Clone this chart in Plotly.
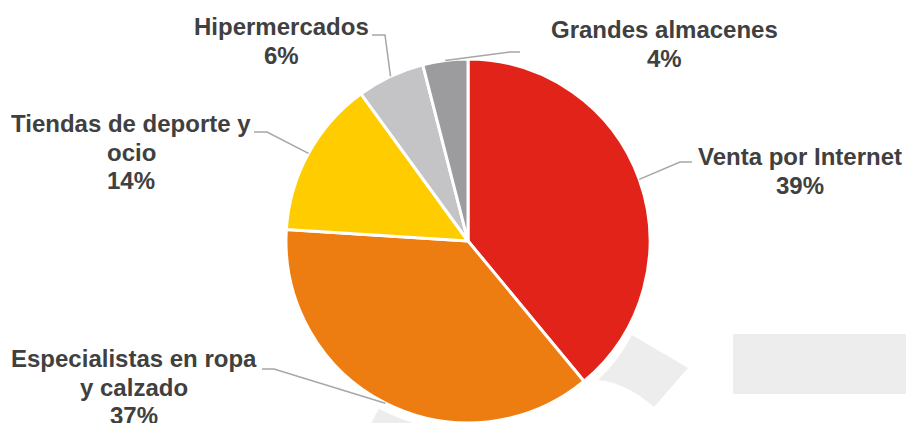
import math
import plotly.graph_objects as go

# ---------------- data ----------------
categories = ["Venta por Internet", "Especialistas en ropa y calzado",
              "Tiendas de deporte y ocio", "Hipermercados", "Grandes almacenes"]
values = [39, 37, 14, 6, 4]
label_lines = [["Venta por Internet"],
               ["Especialistas en ropa", "y calzado"],
               ["Tiendas de deporte y", "ocio"],
               ["Hipermercados"],
               ["Grandes almacenes"]]
colors = ["#E2231A", "#EE7D11", "#FFCC00", "#C4C3C5", "#9C9B9E"]

# ---------------- layout constants (pixels) ----------------
W, H = 906, 423
CX, CY, R = 468, 241, 182
FS = 24
LINE_GAP = 28.5
TEXT_COLOR = "#404040"
LEADER_COLOR = "#A6A6A6"
# label centre x, first baseline y, leader start (x,y), elbow x
label_pos = [(800, 165, 692, 162, 680),
             (134, 367, 262, 369, 274),
             (131, 132, 254, 132, 267),
             (281, 35, 372, 35, 385),
             (664, 38, 520, 52, 510)]


def X(x):
    return x / W


def Y(y):
    return 1 - y / H


fig = go.Figure(go.Pie(
    labels=categories, values=values, sort=False, direction="clockwise",
    rotation=0, textinfo="none", hoverinfo="label+percent",
    marker=dict(colors=colors, line=dict(color="white", width=3)),
    domain=dict(x=[X(CX - R), X(CX + R)], y=[Y(CY + R), Y(CY - R)]),
    showlegend=False,
))

shapes = []
# watermark pieces (background decoration)
def arc_pts(r, a0, a1, n=20):
    pts = []
    for i in range(n + 1):
        a = math.radians(a0 + (a1 - a0) * i / n)
        pts.append((CX + r * math.cos(a), CY + r * math.sin(a)))
    return pts

wm = "#EDEDED"
p1 = [(632, 335), (688, 368), (654, 407)]
path = "M {} {} ".format(X(p1[0][0]), Y(p1[0][1]))
path += "L {} {} L {} {} ".format(X(p1[1][0]), Y(p1[1][1]), X(p1[2][0]), Y(p1[2][1]))
path += "Q {} {} {} {} ".format(X(627), Y(383), X(598), Y(380))
path += "Q {} {} {} {} Z".format(X(618.5), Y(361), X(632), Y(335))
shapes.append(dict(type="path", path=path, xref="paper", yref="paper",
                   fillcolor=wm, line=dict(width=0), layer="below"))
inner = arc_pts(190, 118, 95)
outer = arc_pts(262, 95, 118)
pts = inner + outer
path2 = "M " + " L ".join("{} {}".format(X(a), Y(b)) for a, b in pts) + " Z"
shapes.append(dict(type="path", path=path2, xref="paper", yref="paper",
                   fillcolor=wm, line=dict(width=0), layer="below"))
shapes.append(dict(type="rect", xref="paper", yref="paper", x0=X(733), x1=X(906),
                   y0=Y(394), y1=Y(334), fillcolor=wm, line=dict(width=0), layer="below"))

annotations = []
total = sum(values)
cum = 0
for i, v in enumerate(values):
    mid = (cum + v / 2) / total * 2 * math.pi
    cum += v
    ex = CX + R * math.sin(mid)
    ey = CY - R * math.cos(mid)
    lx, ly, sx, sy, elx = label_pos[i]
    shapes.append(dict(type="path", xref="paper", yref="paper",
                       path="M {} {} L {} {} L {} {}".format(X(sx), Y(sy), X(elx), Y(sy), X(ex), Y(ey)),
                       line=dict(color=LEADER_COLOR, width=1.5)))
    lines = label_lines[i] + ["{}%".format(v)]
    for k, t in enumerate(lines):
        base = ly + k * LINE_GAP
        annotations.append(dict(
            text="<b>{}</b>".format(t), x=X(lx), y=Y(base - 0.35 * FS),
            xref="paper", yref="paper", xanchor="center", yanchor="middle",
            showarrow=False,
            font=dict(family="Liberation Sans, Arial, sans-serif", size=FS, color=TEXT_COLOR)))

fig.update_layout(
    width=W, height=H, margin=dict(l=0, r=0, t=0, b=0),
    paper_bgcolor="white", plot_bgcolor="white",
    shapes=shapes, annotations=annotations,
)

fig.write_html("out.html", config={"displayModeBar": False},
               post_script="document.body.style.margin='0';document.body.style.overflow='hidden';")
